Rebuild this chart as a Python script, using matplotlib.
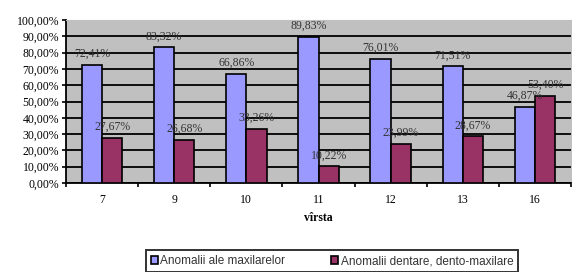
import numpy as np
import matplotlib.pyplot as plt

ages = ['7', '9', '10', '11', '12', '13', '16']
maxilare = [72.41, 83.32, 66.86, 89.83, 76.01, 71.51, 46.87]
dentare = [27.67, 26.68, 33.26, 10.22, 23.99, 28.67, 53.40]

fig = plt.figure(figsize=(5.72, 2.72), dpi=100)
ax = fig.add_axes([66/572, 1 - 183/272, 505/572, 163/272])
ax.set_facecolor('#c0c0c0')

x = np.arange(len(ages))
w = 0.28
ax.bar(x - w/2, maxilare, w, color='#9999ff', edgecolor='black', linewidth=1.2,
       label='Anomalii ale maxilarelor', zorder=3)
ax.bar(x + w/2, dentare, w, color='#993366', edgecolor='black', linewidth=1.2,
       label='Anomalii dentare, dento-maxilare', zorder=3)

def fmt(v):
    return ('%.2f%%' % v).replace('.', ',')

for xi, v in zip(x, maxilare):
    ax.text(xi - w/2, v + 3, fmt(v), ha='center', va='bottom',
            fontsize=8.5, family='Liberation Serif', color='#333333', zorder=4)
for xi, v in zip(x, dentare):
    ax.text(xi + w/2, v + 3, fmt(v), ha='center', va='bottom',
            fontsize=8.5, family='Liberation Serif', color='#333333', zorder=4)

ax.set_xlim(-0.5, len(ages) - 0.5)
ax.set_ylim(0, 100)
ax.set_yticks(np.arange(0, 101, 10))
ax.set_yticklabels([('%.2f%%' % t).replace('.', ',') for t in np.arange(0, 101, 10)],
                   fontsize=8.5, family='Liberation Serif')
ax.set_xticks(x)
ax.set_xticklabels(ages, fontsize=8.5, family='Liberation Serif')
ax.set_xticks(np.arange(-0.5, len(ages), 1), minor=True)
ax.tick_params(axis='x', which='major', length=0, pad=8)
ax.tick_params(axis='x', which='minor', length=3, direction='out', width=1.2)
ax.tick_params(axis='y', length=3, direction='out', pad=2, width=1.2)
ax.grid(axis='y', color='black', linewidth=1.3, zorder=0)
for s in ['top', 'right']:
    ax.spines[s].set_color('#c0c0c0')
for s in ['left', 'bottom']:
    ax.spines[s].set_linewidth(1.3)
ax.set_xlabel('vîrsta', fontsize=8.5, family='Liberation Serif', fontweight='bold', labelpad=4)

leg = fig.legend(loc='center', bbox_to_anchor=(146/572, 1 - 273/272, 372/572, 24/272),
                 mode='expand', ncol=2,
                 frameon=True, fancybox=False, edgecolor='black',
                 handlelength=0.6, handleheight=0.6, handletextpad=0.2, columnspacing=2.0,
                 borderpad=0.4, borderaxespad=0,
                 prop={'family': 'Liberation Sans', 'size': 8.5})
leg.get_frame().set_linewidth(1.4)
for t in leg.get_texts():
    t.set_color('#333333')

fig.savefig('out.png', dpi=100)
